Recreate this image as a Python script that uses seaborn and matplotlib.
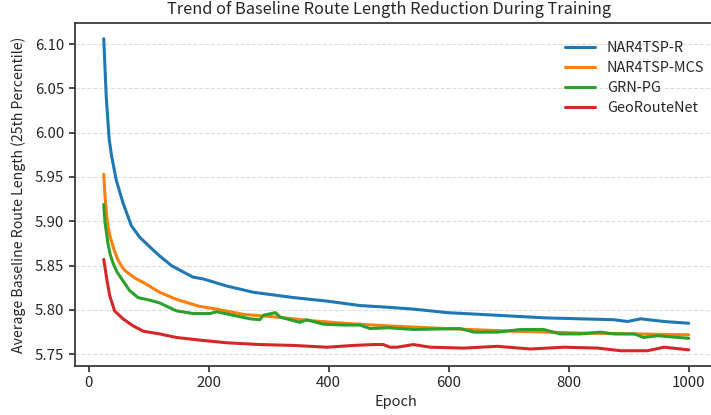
import numpy as np
import pandas as pd
import matplotlib
matplotlib.use("Agg")
import matplotlib.pyplot as plt
import seaborn as sns

series_names = ["NAR4TSP-R", "NAR4TSP-MCS", "GRN-PG", "GeoRouteNet"]

r_epoch = [25, 29, 34, 38, 46, 57, 71, 85, 102, 118, 138, 157, 174, 191, 230, 274, 341, 397, 452, 500,
           541, 597, 653, 708, 764, 820, 875, 898, 920, 959, 1000]
r_val = [6.106, 6.042, 5.993, 5.974, 5.946, 5.921, 5.895, 5.882, 5.871, 5.861, 5.850, 5.843, 5.837, 5.835,
         5.827, 5.820, 5.814, 5.810, 5.805, 5.803, 5.801, 5.797, 5.795, 5.793, 5.791, 5.790, 5.789, 5.787,
         5.790, 5.787, 5.785]

m_epoch = [25, 27, 30, 32, 35, 43, 49, 57, 63, 77, 91, 118, 146, 185, 213, 258, 313, 369, 425, 500,
           597, 708, 820, 1000]
m_val = [5.953, 5.929, 5.906, 5.895, 5.884, 5.866, 5.856, 5.847, 5.843, 5.836, 5.831, 5.820, 5.812, 5.804,
         5.801, 5.795, 5.792, 5.788, 5.785, 5.782, 5.779, 5.776, 5.774, 5.772]

g_epoch = [25, 27, 30, 32, 36, 41, 47, 55, 68, 82, 102, 118, 146, 174, 202, 213, 241, 269, 285, 291, 311, 319,
           352, 363, 391, 425, 452, 469, 500, 541, 619, 642, 681, 720, 758, 786, 820, 853, 875, 909, 925,
           948, 1000]
g_val = [5.919, 5.899, 5.885, 5.875, 5.862, 5.852, 5.843, 5.835, 5.822, 5.814, 5.811, 5.808, 5.799, 5.796,
         5.796, 5.798, 5.794, 5.790, 5.789, 5.794, 5.797, 5.792, 5.786, 5.789, 5.784, 5.783, 5.783, 5.779,
         5.780, 5.778, 5.779, 5.775, 5.775, 5.778, 5.778, 5.773, 5.773, 5.775, 5.773, 5.773, 5.769, 5.771,
         5.768]

n_epoch = [25, 30, 35, 43, 57, 74, 91, 118, 146, 185, 230, 285, 341, 397, 441, 475, 491, 502, 514, 541,
           569, 625, 681, 736, 792, 848, 887, 931, 959, 1000]
n_val = [5.857, 5.835, 5.816, 5.799, 5.790, 5.782, 5.776, 5.773, 5.769, 5.766, 5.763, 5.761, 5.760, 5.758,
         5.760, 5.761, 5.761, 5.758, 5.758, 5.761, 5.758, 5.757, 5.759, 5.756, 5.758, 5.757, 5.754, 5.754,
         5.758, 5.755]

x_ticks = [0, 200, 400, 600, 800, 1000]
y_ticks = [5.75, 5.80, 5.85, 5.90, 5.95, 6.00, 6.05, 6.10]

frames = []
for name, ep, val in zip(series_names, [r_epoch, m_epoch, g_epoch, n_epoch], [r_val, m_val, g_val, n_val]):
    frames.append(pd.DataFrame({"Epoch": ep, "Value": val, "Model": name}))
df = pd.concat(frames, ignore_index=True)

sns.set_theme(style="ticks")
plt.rcParams['font.family'] = ['Noto Sans CJK SC', 'DejaVu Sans']

W, H = 711, 415
fig = plt.figure(figsize=(W / 100, H / 100), dpi=100)
ax = fig.add_axes([74.5 / W, (H - 366) / H, (718 - 74.5) / W, (366 - 23) / H])

palette = ["#1f77b4", "#ff7f0e", "#2ca02c", "#d62728"]
sns.lineplot(data=df, x="Epoch", y="Value", hue="Model", hue_order=series_names,
             palette=palette, linewidth=2.2, ax=ax, sort=True, estimator=None)

fig.text(389 / W, 1 - 10 / H, "Trend of Baseline Route Length Reduction During Training",
         fontsize=11.8, ha="center", va="center")
ax.set_xlabel("Epoch", fontsize=10.5, labelpad=3)
ax.set_ylabel("Average Baseline Route Length (25th Percentile)", fontsize=10.2, labelpad=6)
ax.set_yticks(y_ticks)
ax.set_yticklabels([f"{v:.2f}" for v in y_ticks])
ax.set_xticks(x_ticks)
ax.set_xlim(-23.75, 1048.75)
ax.set_ylim(5.7368, 6.1237)
ax.yaxis.grid(True, linestyle="--", color="#dddddd", linewidth=0.8)
ax.set_axisbelow(True)
for s in ax.spines.values():
    s.set_color("#333333")
ax.tick_params(labelsize=10.8, length=4, color="#333333")
leg = ax.legend(loc="upper left", bbox_to_anchor=(0.742, 0.986), frameon=False, fontsize=10.4,
                handlelength=2.1, labelspacing=0.42, handletextpad=0.8)
leg.set_title(None)

fig.savefig("out.png", dpi=100)
